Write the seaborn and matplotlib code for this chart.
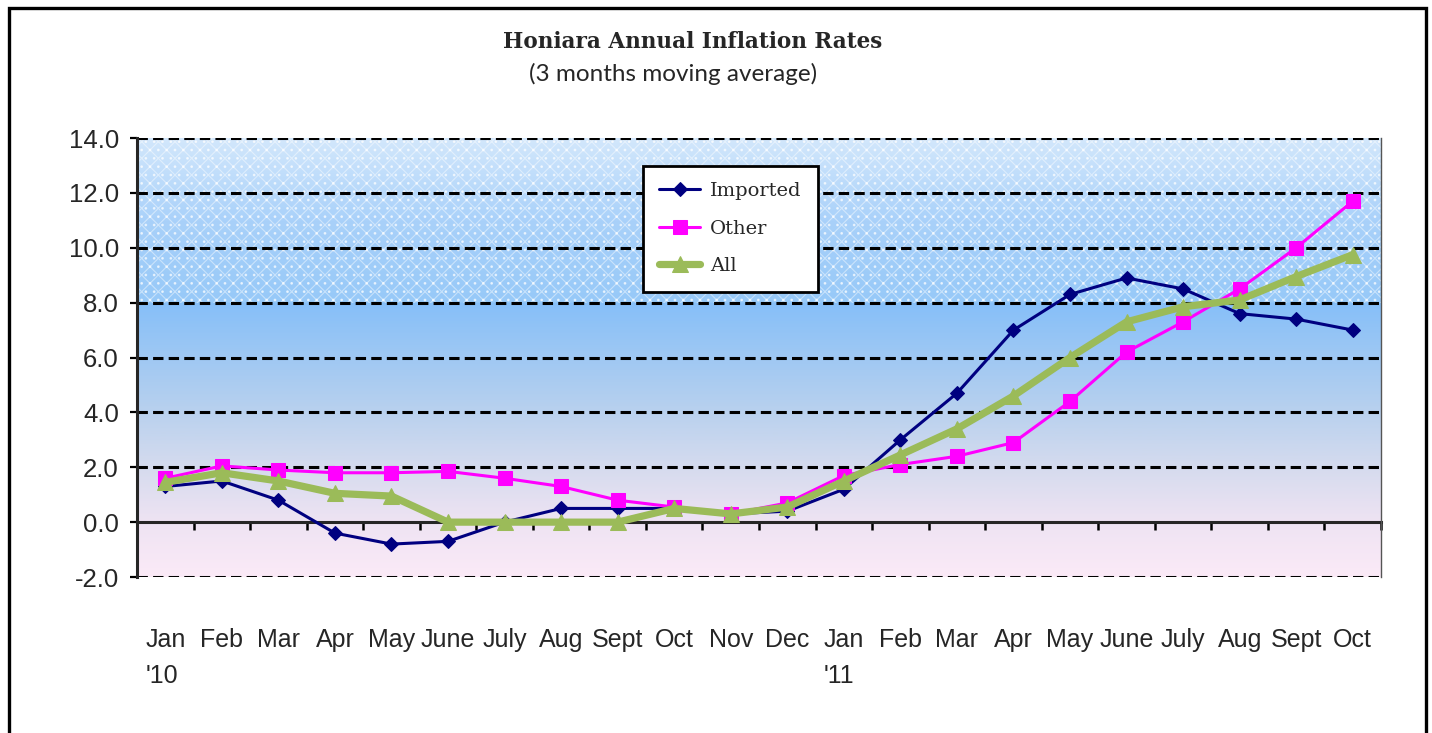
import numpy as np
import pandas as pd
import seaborn as sns
import matplotlib as mpl
from matplotlib import pyplot as plt
from matplotlib.colors import LinearSegmentedColormap
from matplotlib.patches import Rectangle

months = ['Jan', 'Feb', 'Mar', 'Apr', 'May', 'June', 'July', 'Aug', 'Sept', 'Oct', 'Nov', 'Dec',
          'Jan', 'Feb', 'Mar', 'Apr', 'May', 'June', 'July', 'Aug', 'Sept', 'Oct']
year_marks = {0: "'10", 12: "'11"}

imported = [1.3, 1.5, 0.8, -0.4, -0.8, -0.7, 0.0, 0.5, 0.5, 0.5, 0.3, 0.4,
            1.2, 3.0, 4.7, 7.0, 8.3, 8.9, 8.5, 7.6, 7.4, 7.0]
other = [1.6, 2.05, 1.9, 1.8, 1.8, 1.85, 1.6, 1.3, 0.8, 0.55, 0.3, 0.7,
         1.7, 2.1, 2.4, 2.9, 4.4, 6.2, 7.3, 8.5, 10.0, 11.7]
all_items = [1.45, 1.8, 1.5, 1.05, 0.95, 0.0, 0.0, 0.0, 0.0, 0.5, 0.3, 0.55,
             1.5, 2.45, 3.4, 4.6, 6.0, 7.3, 7.85, 8.1, 8.95, 9.75]

df = pd.DataFrame({'pos': np.arange(len(months)), 'Imported': imported,
                   'Other': other, 'All': all_items})

sns.set_theme(style="white")
plt.rcParams['font.family'] = ['Liberation Sans', 'DejaVu Sans']

fig = plt.figure(figsize=(14.32, 7.33), dpi=100)
ax = fig.add_axes([0.0957, 0.2128, 0.8687, 0.5989])

# background gradient
stops = [(-2, '#fbeaf7'), (0, '#eee3f3'), (2, '#d5dbee'), (4, '#b9d1ee'),
         (6, '#9fc8f3'), (8, '#86bff9'), (8.01, '#97c9f8'), (11, '#a9d1fa'), (14, '#d2e7fc')]
cmap = LinearSegmentedColormap.from_list('bg', [((v + 2) / 16, c) for v, c in stops])
grad = np.linspace(0, 1, 400).reshape(-1, 1)
ax.imshow(grad, cmap=cmap, extent=[-0.5, 21.5, -2, 14], origin='lower',
          aspect='auto', zorder=0, interpolation='bilinear')
plt.rcParams['hatch.linewidth'] = 0.8
ax.fill_between([-0.5, 21.5], 8, 14, facecolor='none', edgecolor='white',
                hatch='xx', linewidth=0, alpha=0.45, zorder=0.5)
ax.fill_between([-0.5, 21.5], 8, 14, facecolor='none', edgecolor='white',
                hatch='..', linewidth=0, alpha=0.6, zorder=0.5)

sns.lineplot(data=df, x='pos', y='Imported', ax=ax, color='#000080', lw=2.2,
             marker='D', markersize=7.5, markeredgecolor='#000080', label='Imported', zorder=3)
sns.lineplot(data=df, x='pos', y='Other', ax=ax, color='#ff00ff', lw=2.2,
             marker='s', markersize=10, markeredgecolor='#ff00ff', label='Other', zorder=4)
sns.lineplot(data=df, x='pos', y='All', ax=ax, color='#9bbb59', lw=5.2,
             marker='^', markersize=12, markeredgecolor='#9bbb59', label='All', zorder=5)

ax.set_xlim(-0.5, 21.5)
ax.set_ylim(-2, 14)
ax.set_xlabel('')
ax.set_ylabel('')

# y axis
ax.set_yticks(np.arange(-2, 15, 2))
ax.set_yticklabels([f'{v:.1f}' for v in np.arange(-2, 15, 2)], fontsize=18.5)
for v in np.arange(-2, 15, 2):
    if v != 0:
        ax.axhline(v, color='black', lw=2.2, dashes=(3.4, 1.7), zorder=1)
ax.tick_params(axis='y', direction='out', length=5, width=1.6, color='black', pad=8, left=True)

# x axis at zero
ax.spines['bottom'].set_position(('data', 0))
ax.spines['bottom'].set_linewidth(2.2)
ax.spines['bottom'].set_zorder(2)
ax.spines['left'].set_linewidth(2.2)
ax.spines['top'].set_visible(False)
ax.spines['right'].set_color('#555555')
ax.spines['right'].set_linewidth(1.0)
ax.set_xticks(np.arange(len(months)))
labels = [m + ('\n' + year_marks[i] if i in year_marks else '') for i, m in enumerate(months)]
ax.set_xticklabels(labels, fontsize=18, linespacing=1.65)
for i, t in enumerate(ax.get_xticklabels()):
    t.set_multialignment('left')
ax.set_xticks(np.arange(-0.5, 22, 1), minor=True)
ax.tick_params(axis='x', which='major', length=0, pad=76, bottom=True)
ax.tick_params(axis='x', which='minor', direction='out', length=6, width=1.8,
               color='black', bottom=True)

leg = ax.legend(loc='upper left', bbox_to_anchor=(0.4065, 0.937), frameon=True,
                fancybox=False, prop={'family': 'DejaVu Serif', 'size': 14},
                handlelength=2.1, labelspacing=1.0, borderpad=0.85, handletextpad=0.5,
                borderaxespad=0)
leg.get_frame().set_edgecolor('black')
leg.get_frame().set_linewidth(2.0)
leg.get_frame().set_facecolor('white')
leg.get_frame().set_alpha(1)
leg.set_zorder(10)

fig.text(0.4835, 0.943, 'Honiara Annual Inflation Rates', ha='center', va='center',
         fontsize=15.5, fontweight='bold', family='DejaVu Serif')
fig.text(0.470, 0.899, '(3 months moving average)', ha='center', va='center',
         fontsize=17.5, family='Lato')

fig.patches.append(Rectangle((0.0063, -0.1), 0.9895, 1.0885, transform=fig.transFigure,
                             fill=False, edgecolor='black', lw=2.4, clip_on=False))

plt.savefig('out.png', dpi=100)
